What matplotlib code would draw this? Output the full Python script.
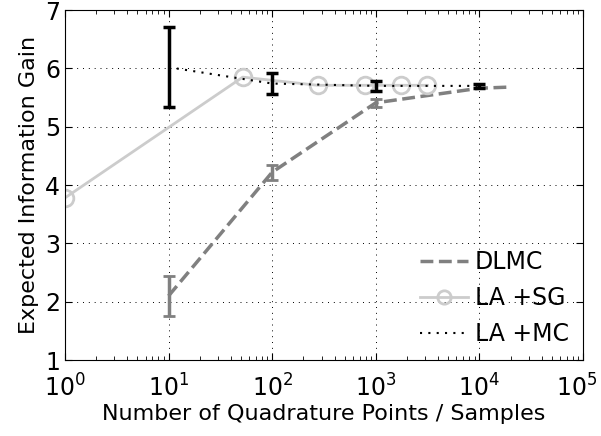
"""Expected information gain vs number of quadrature points / samples."""
import numpy as np
import matplotlib
matplotlib.use("Agg")
import matplotlib.pyplot as plt
import matplotlib.transforms as mtransforms

# DLMC
dlmc_n = [10, 100, 1000, 10000, 20000]
dlmc_y = [2.10, 4.22, 5.41, 5.66, 5.68]
dlmc_err = [0.34, 0.13, 0.07, 0.0, 0.0]

# LA + sparse grid
sg_n = [1, 52, 276, 780, 1750, 3150]
sg_y = [3.78, 5.85, 5.71, 5.71, 5.71, 5.71]

# LA + MC
mc_n = [10, 100, 1000, 10000]
mc_y = [6.02, 5.74, 5.70, 5.70]
mc_err = [0.69, 0.18, 0.08, 0.04]

x_ticks = [1, 10, 100, 1000, 10000, 100000]
x_labels = [r'$10^{0}$', r'$10^{1}$', r'$10^{2}$', r'$10^{3}$', r'$10^{4}$',
            r'$10^{5}$']

plt.rcParams['xtick.direction'] = 'in'
plt.rcParams['ytick.direction'] = 'in'
plt.rcParams['xtick.top'] = True
plt.rcParams['ytick.right'] = True
plt.rcParams['font.size'] = 16

fig = plt.figure(figsize=(6.01, 4.36), dpi=100)
ax = fig.add_axes([0.108, 0.174, 0.862, 0.803])

ax.plot(dlmc_n, dlmc_y, color='0.5', ls='--', lw=2.5, label='DLMC')
ax.errorbar(dlmc_n[:3], dlmc_y[:3], yerr=dlmc_err[:3], fmt='none',
            ecolor='0.5', elinewidth=2.5, capsize=4, capthick=2)
ax.plot(sg_n, sg_y, color='0.8', ls='-', lw=2, marker='o', ms=12,
        mfc='none', mec='0.8', mew=2, label='LA +SG')
ax.plot(mc_n, mc_y, color='k', ls=(0, (1, 3)), lw=1.5, label='LA +MC')
ax.errorbar(mc_n, mc_y, yerr=mc_err, fmt='none', ecolor='k',
            elinewidth=2.5, capsize=4, capthick=2.5)

ax.set_xscale('log')
ax.set_xlim(1, 1e5)
ax.set_ylim(1, 7)
ax.set_xticks(x_ticks, x_labels)
ax.set_yticks(np.arange(1, 8))
ax.grid(True, which='major', color='k', ls=(0, (1, 5)), lw=0.7)
ax.tick_params(which='major', length=5, labelsize=17)
ax.tick_params(which='minor', length=3)
ax.tick_params(axis='x', pad=10)

ax.set_xlabel('Number of Quadrature Points / Samples', fontsize=16,
              labelpad=2)
ax.set_ylabel('Expected Information Gain', fontsize=16, labelpad=4)

leg = ax.legend(loc='lower right', frameon=False, handlelength=2.0,
                handletextpad=0.3, markerscale=0.8, fontsize=17,
                borderaxespad=0.2, labelspacing=0.5)

# nudge the 10^5 label so it stays inside the canvas
last = ax.xaxis.get_major_ticks()[-1].label1
last.set_transform(last.get_transform() +
                   mtransforms.ScaledTranslation(-6 / 100, 0, fig.dpi_scale_trans))

fig.savefig('out.png', dpi=100)
